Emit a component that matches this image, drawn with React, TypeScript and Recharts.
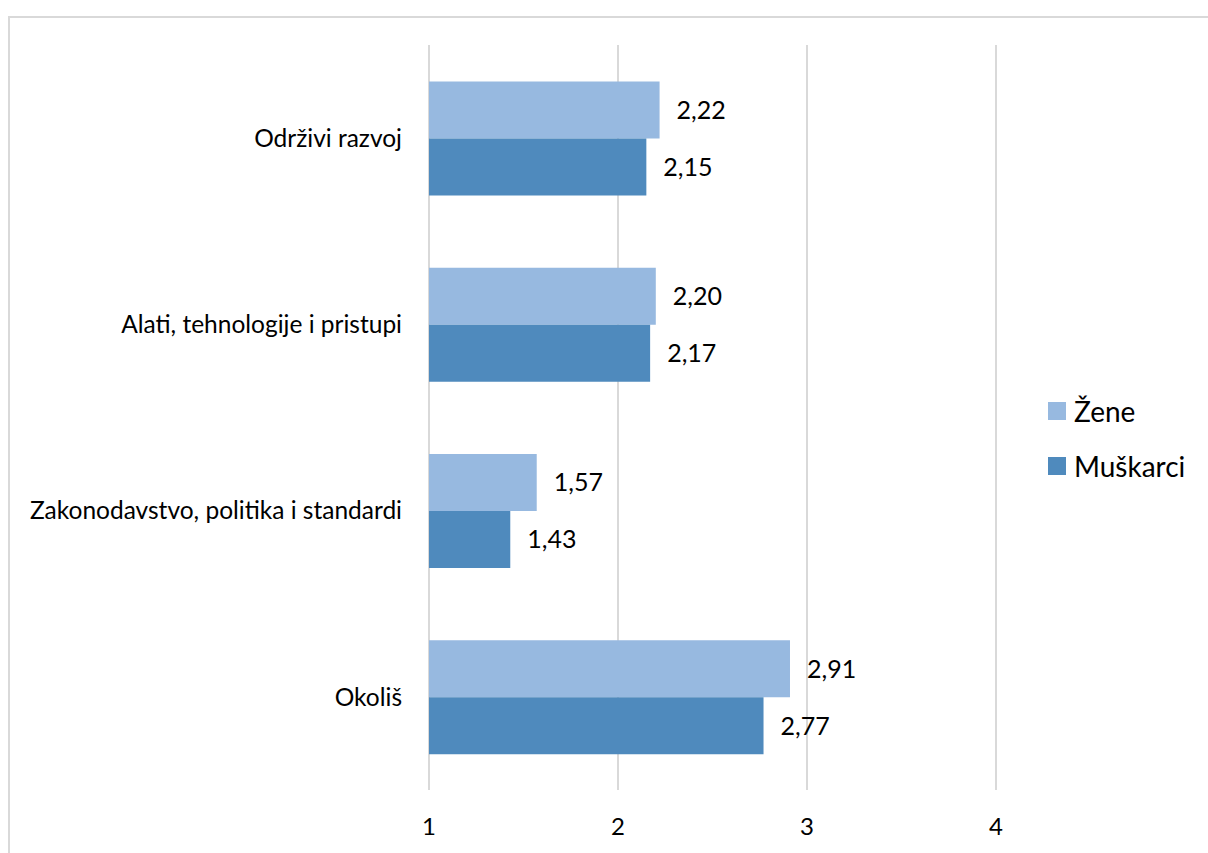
import { Bar, BarChart, CartesianGrid, LabelList, XAxis, YAxis } from "recharts";

const categories = [
  "Održivi razvoj",
  "Alati, tehnologije i pristupi",
  "Zakonodavstvo, politika i standardi",
  "Okoliš",
];
const zene = [2.22, 2.2, 1.57, 2.91];
const muskarci = [2.15, 2.17, 1.43, 2.77];
const xTicks = [1, 2, 3, 4];

const data = categories.map((name, i) => ({ name, zene: zene[i], muskarci: muskarci[i] }));

const FONT = "Lato, 'Open Sans', sans-serif";
const LIGHT = "#97b9e0";
const DARK = "#4f8abd";

const fmt = (v: unknown) => Number(v).toFixed(2).replace(".", ",");

function LegendBox() {
  const items = [
    { label: "Žene", color: LIGHT },
    { label: "Muškarci", color: DARK },
  ];
  return (
    <div style={{ position: "absolute", left: 1048, top: 383, fontFamily: FONT, fontSize: 28, color: "#000" }}>
      {items.map((it) => (
        <div key={it.label} style={{ display: "flex", alignItems: "center", height: 55 }}>
          <span style={{ width: 18, height: 18, background: it.color, marginRight: 8 }} />
          {it.label}
        </div>
      ))}
    </div>
  );
}

export default function App() {
  return (
    <div style={{ position: "fixed", left: 0, top: 0, width: 1208, height: 853, overflow: "hidden", background: "#fff" }}>
      <div
        style={{
          position: "absolute",
          left: 8,
          top: 16,
          width: 1240,
          height: 900,
          border: "2px solid #d9d9d9",
          boxSizing: "border-box",
        }}
      />
      <div style={{ position: "absolute", left: 0, top: 0 }}>
        <BarChart
          width={1208}
          height={853}
          data={data}
          layout="vertical"
          margin={{ top: 45, right: 212, bottom: 0, left: 0 }}
          barCategoryGap="19.6%"
          barGap={0}
        >
          <CartesianGrid horizontal={false} stroke="#d9d9d9" strokeWidth={2} />
          <XAxis
            type="number"
            domain={[1, 4]}
            ticks={xTicks}
            axisLine={false}
            tickLine={false}
            height={63}
            tickMargin={22}
            tick={{ fontSize: 24, fill: "#000", fontFamily: FONT }}
          />
          <YAxis
            type="category"
            dataKey="name"
            width={429}
            axisLine={false}
            tickLine={false}
            tickMargin={21}
            tick={{ fontSize: 24.5, fill: "#000", fontFamily: FONT }}
          />
          <Bar dataKey="zene" name="Žene" fill={LIGHT} isAnimationActive={false}>
            <LabelList
              dataKey="zene"
              position="right"
              offset={17}
              formatter={fmt}
              style={{ fontSize: 25, fill: "#000", fontFamily: FONT }}
            />
          </Bar>
          <Bar dataKey="muskarci" name="Muškarci" fill={DARK} isAnimationActive={false}>
            <LabelList
              dataKey="muskarci"
              position="right"
              offset={17}
              formatter={fmt}
              style={{ fontSize: 25, fill: "#000", fontFamily: FONT }}
            />
          </Bar>
        </BarChart>
      </div>
      <LegendBox />
    </div>
  );
}
